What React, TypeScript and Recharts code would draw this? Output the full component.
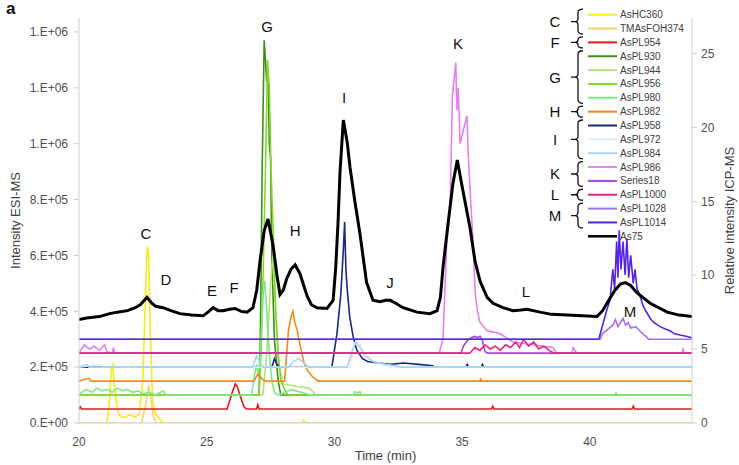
import React from "react";
import {
  LineChart,
  Line,
  XAxis,
  YAxis,
  ReferenceDot,
} from "recharts";

type Pt = [number, number];

// ESI-MS traces (left axis), each drawn with its own baseline offset
const asHC360: Pt[] = [
  [20, 0], [21.1, 0], [21.2, 8e4], [21.27, 2.0e5], [21.32, 2.1e5], [21.4, 1.2e5], [21.5, 5e4],
  [21.6, 2.5e4], [21.8, 2e4], [22.0, 3e4], [22.2, 2e4], [22.35, 3e4], [22.5, 1.5e5], [22.6, 4.5e5],
  [22.67, 6.3e5], [22.72, 6.2e5], [22.8, 3e5], [22.88, 8e4], [23.0, 3e4], [23.2, 1e4], [23.3, 0],
  [28.75, 0], [28.8, 1e4], [28.85, 0], [44, 0],
];
const tmAsFOH374: Pt[] = [
  [20, 0], [22.45, 0], [22.6, 6e4], [22.72, 1.35e5], [22.8, 1.0e5], [22.9, 3e4], [23.0, 0], [44, 0],
];
const asPL954: Pt[] = [
  [20, 5e4], [20.05, 5.8e4], [20.1, 5e4], [25.8, 5e4], [25.9, 8e4], [26.0, 1.1e5], [26.12, 1.4e5],
  [26.2, 1.3e5], [26.3, 1.0e5], [26.45, 6e4], [26.55, 5e4], [26.95, 5e4], [27.0, 6.5e4], [27.05, 5e4],
  [36.15, 5e4], [36.2, 6e4], [36.25, 5e4], [41.65, 5e4], [41.7, 6e4], [41.75, 5e4], [44, 5e4],
];
const asPL930: Pt[] = [
  [20, 1e5], [27.05, 1e5], [27.1, 3e5], [27.17, 9e5], [27.25, 1.37e6], [27.3, 1.3e6], [27.35, 1.22e6],
  [27.4, 1.25e6], [27.45, 1.0e6], [27.5, 9.5e5], [27.55, 6e5], [27.65, 3e5], [27.8, 1.5e5], [27.9, 1e5],
  [44, 1e5],
];
const asPL944: Pt[] = [
  [20, 1e5], [27.2, 1e5], [27.35, 2.5e5], [27.5, 5.0e5], [27.6, 6.0e5], [27.7, 4.0e5], [27.8, 2.2e5],
  [28.0, 1.4e5], [28.6, 1.3e5], [29.0, 1.25e5], [29.3, 1e5], [44, 1e5],
];
const asPL956: Pt[] = [
  [20, 1e5], [27.05, 1e5], [27.15, 3e5], [27.3, 9e5], [27.38, 1.3e6], [27.45, 1.2e6], [27.52, 9e5],
  [27.6, 7e5], [27.7, 4e5], [27.8, 2.5e5], [27.9, 1.5e5], [28.1, 1.1e5], [28.2, 1e5], [44, 1e5],
];
const asPL980: Pt[] = [
  [20, 1e5], [20.1, 1.1e5], [20.3, 1.2e5], [20.5, 1.1e5], [20.7, 1.25e5], [20.9, 1.15e5], [21.1, 1.2e5],
  [21.3, 1.1e5], [21.5, 1.25e5], [21.7, 1.15e5], [21.9, 1.2e5], [22.1, 1.1e5], [22.3, 1.15e5],
  [22.5, 1.05e5], [22.7, 1.1e5], [23.0, 1.0e5], [23.3, 1.15e5], [23.4, 1.0e5], [26.75, 1e5],
  [26.85, 1.6e5], [26.95, 2.1e5], [27.02, 1.7e5], [27.1, 2.5e5], [27.2, 4.5e5], [27.27, 5.1e5],
  [27.35, 4.0e5], [27.45, 2.5e5], [27.55, 1.5e5], [27.65, 1.1e5], [27.8, 1e5], [28.1, 1.1e5],
  [28.3, 1.2e5], [28.5, 1.15e5], [28.7, 1.1e5], [28.9, 1.05e5], [29.1, 1e5], [30.75, 1e5],
  [30.8, 1.12e5], [30.9, 1.08e5], [31.0, 1.12e5], [31.05, 1e5], [41.0, 1e5], [41.02, 1.1e5],
  [41.05, 1e5], [44, 1e5],
];
const asPL982: Pt[] = [
  [20, 1.5e5], [20.4, 1.6e5], [20.45, 1.5e5], [26.85, 1.5e5], [27.0, 1.75e5], [27.15, 1.6e5],
  [27.3, 1.5e5], [28.05, 1.5e5], [28.2, 3.3e5], [28.3, 3.8e5], [28.38, 4.0e5], [28.45, 3.6e5],
  [28.55, 3.3e5], [28.65, 2.8e5], [28.8, 2.2e5], [28.93, 1.9e5], [29.1, 1.7e5], [29.35, 1.5e5],
  [35.7, 1.5e5], [35.72, 1.6e5], [35.75, 1.5e5], [44, 1.5e5],
];
const asPL958: Pt[] = [
  [20, 2e5], [27.55, 2e5], [27.65, 2.3e5], [27.75, 2.1e5], [27.85, 2e5], [29.9, 2e5], [30.0, 2.6e5],
  [30.1, 3.2e5], [30.25, 4.6e5], [30.35, 6.2e5], [30.4, 7.2e5], [30.45, 5.5e5], [30.5, 4.8e5],
  [30.6, 3.8e5], [30.73, 3.1e5], [30.88, 2.6e5], [31.1, 2.3e5], [31.3, 2.2e5], [31.7, 2.15e5],
  [32.2, 2.1e5], [32.7, 2.15e5], [33.3, 2.1e5], [33.85, 2.05e5], [33.9, 2e5], [35.15, 2e5],
  [35.2, 2.1e5], [35.25, 2e5], [35.75, 2e5], [35.8, 2.1e5], [35.85, 2e5], [44, 2e5],
];
const asPL972: Pt[] = [
  [20, 2e5], [20.8, 2.1e5], [21.0, 2e5], [30.6, 2e5], [30.75, 2.8e5], [30.9, 3.0e5], [31.1, 2.6e5],
  [31.4, 2.3e5], [31.8, 2.1e5], [32.2, 2e5], [44, 2e5],
];
const asPL984: Pt[] = [
  [20, 2e5], [20.3, 2.1e5], [20.4, 2e5], [26.8, 2e5], [26.95, 2.4e5], [27.1, 2.1e5], [27.2, 2e5],
  [28.2, 2e5], [28.4, 2.2e5], [28.6, 2.3e5], [28.8, 2.15e5], [29.0, 2e5], [30.5, 2e5], [30.7, 2.6e5],
  [30.85, 2.9e5], [31.0, 2.7e5], [31.2, 2.4e5], [31.5, 2.2e5], [32.0, 2.1e5], [32.4, 2.05e5],
  [32.6, 2e5], [44, 2e5],
];
const asPL986: Pt[] = [
  [20, 2.5e5], [20.2, 2.8e5], [20.4, 2.65e5], [20.6, 2.75e5], [20.8, 2.6e5], [21.0, 2.8e5],
  [21.1, 2.55e5], [21.3, 2.5e5], [21.35, 2.7e5], [21.4, 2.5e5], [34.1, 2.5e5], [34.25, 3.0e5],
  [34.4, 6.5e5], [34.53, 7.7e5], [34.62, 1.17e6], [34.75, 1.29e6], [34.8, 1.12e6], [34.85, 1.2e6],
  [34.92, 1.0e6], [35.05, 1.05e6], [35.19, 1.1e6], [35.23, 9.8e5], [35.35, 7.7e5], [35.43, 6.5e5],
  [35.51, 4.7e5], [35.6, 4.0e5], [35.7, 3.6e5], [35.98, 3.3e5], [36.48, 3.2e5], [36.99, 2.9e5],
  [37.78, 2.8e5], [38.56, 2.7e5], [38.7, 2.5e5], [39.3, 2.5e5], [39.35, 2.7e5], [39.45, 2.55e5],
  [39.5, 2.5e5], [43.6, 2.5e5], [43.65, 2.65e5], [43.7, 2.5e5], [44, 2.5e5],
];
const series18: Pt[] = [
  [20, 2.5e5], [34.95, 2.5e5], [35.05, 2.75e5], [35.2, 2.95e5], [35.35, 3.05e5], [35.5, 3.1e5],
  [35.6, 3.05e5], [35.7, 3.1e5], [35.8, 2.95e5], [35.85, 2.7e5], [35.9, 2.55e5], [36.0, 2.5e5],
  [44, 2.5e5],
];
const asPL1000: Pt[] = [
  [20, 2.5e5], [35.3, 2.5e5], [35.5, 2.7e5], [35.7, 2.6e5], [35.9, 2.8e5], [36.1, 2.65e5],
  [36.3, 2.75e5], [36.5, 2.6e5], [36.7, 2.8e5], [36.9, 2.7e5], [37.1, 2.9e5], [37.25, 2.7e5],
  [37.4, 3.0e5], [37.6, 2.75e5], [37.8, 2.9e5], [38.0, 2.65e5], [38.2, 2.75e5], [38.4, 2.6e5],
  [38.6, 2.5e5], [44, 2.5e5],
];
const asPL1028: Pt[] = [
  [20, 3e5], [40.4, 3e5], [40.5, 3.2e5], [40.7, 3.35e5], [40.9, 3.5e5], [41.0, 3.7e5], [41.1, 3.45e5],
  [41.2, 3.6e5], [41.3, 3.75e5], [41.4, 3.5e5], [41.5, 3.6e5], [41.6, 3.4e5], [41.8, 3.45e5],
  [42.0, 3.25e5], [42.2, 3.1e5], [42.3, 3e5], [44, 3e5],
];
const asPL1014: Pt[] = [
  [20, 3e5], [40.35, 3e5], [40.5, 3.5e5], [40.65, 4.0e5], [40.79, 4.4e5], [40.9, 5.5e5], [40.97, 4.8e5],
  [41.05, 6.5e5], [41.1, 5.2e5], [41.15, 6.9e5], [41.22, 5.5e5], [41.3, 6.5e5], [41.38, 5.3e5],
  [41.45, 6.6e5], [41.52, 5.2e5], [41.6, 6.0e5], [41.7, 5.0e5], [41.77, 5.5e5], [41.85, 4.8e5],
  [41.95, 4.6e5], [42.08, 4.2e5], [42.2, 4.0e5], [42.36, 3.75e5], [42.5, 3.6e5], [42.75, 3.45e5],
  [43.0, 3.35e5], [43.14, 3.3e5], [43.3, 3.2e5], [43.53, 3.15e5], [43.81, 3.1e5], [44, 3.05e5],
];

// ICP-MS total arsenic (right axis)
const as75: Pt[] = [
  [20, 7.0], [20.3, 7.1], [20.8, 7.2], [21.2, 7.4], [21.5, 7.5], [21.9, 7.6], [22.2, 7.8], [22.4, 8.0],
  [22.66, 8.5], [22.85, 8.1], [23.0, 7.9], [23.29, 7.8], [23.6, 7.6], [23.95, 7.4], [24.4, 7.3],
  [24.86, 7.25], [25.05, 7.5], [25.25, 7.8], [25.45, 7.6], [25.64, 7.6], [25.9, 7.7], [26.11, 7.75],
  [26.35, 7.55], [26.58, 7.5], [26.81, 7.8], [26.96, 9.0], [27.09, 11.0], [27.25, 13.0], [27.4, 13.8],
  [27.6, 12.0], [27.75, 10.0], [27.87, 8.7], [28.0, 9.0], [28.14, 9.8], [28.3, 10.4], [28.46, 10.7],
  [28.65, 10.1], [28.93, 8.6], [29.1, 8.0], [29.32, 7.8], [29.71, 7.75], [29.95, 8.3], [30.05, 10.5],
  [30.14, 13.5], [30.22, 17.0], [30.35, 20.5], [30.5, 19.0], [30.61, 17.3], [30.8, 15.0], [31.0, 12.8],
  [31.26, 9.5], [31.51, 8.3], [31.79, 8.2], [32.0, 8.3], [32.18, 8.3], [32.4, 8.1], [32.69, 7.8],
  [33.23, 7.5], [33.74, 7.4], [34.02, 7.6], [34.15, 8.5], [34.25, 10.5], [34.45, 13.5], [34.64, 16.2],
  [34.81, 17.8], [35.0, 16.0], [35.31, 13.2], [35.5, 11.0], [35.7, 9.6], [35.98, 8.5], [36.21, 8.1],
  [36.6, 7.8], [36.99, 7.6], [37.3, 7.65], [37.54, 7.7], [38.05, 7.5], [38.5, 7.35], [39.11, 7.3],
  [40.28, 7.2], [40.5, 7.6], [40.67, 8.1], [40.99, 9.0], [41.2, 9.4], [41.38, 9.5], [41.6, 9.3],
  [41.85, 8.8], [42.36, 8.1], [43.03, 7.5], [43.5, 7.3], [44, 7.2],
];

const seriesNames = [
  "AsHC360", "TMAsFOH374", "AsPL954", "AsPL930", "AsPL944", "AsPL956", "AsPL980", "AsPL982",
  "AsPL958", "AsPL972", "AsPL984", "AsPL986", "Series18", "AsPL1000", "AsPL1028", "AsPL1014", "As75",
];
const seriesData = [
  asHC360, tmAsFOH374, asPL954, asPL930, asPL944, asPL956, asPL980, asPL982,
  asPL958, asPL972, asPL984, asPL986, series18, asPL1000, asPL1028, asPL1014, as75,
];
const seriesColors = [
  "#f3ec1e", "#f8d26a", "#e3191b", "#3e8e1a", "#b3e27c", "#84d82a", "#7cea86", "#f28a1e",
  "#1b2a78", "#e3edf8", "#a8d5f4", "#e282ec", "#a948d6", "#e8267f", "#a274e6", "#5524df", "#000000",
];

// peak letters on the chart (time, ICP-MS scale)
const peakLabels = ["C", "D", "E", "F", "G", "H", "I", "J", "K", "L", "M"];
const peakTimes = [22.62, 23.4, 25.21, 26.07, 27.36, 28.46, 30.38, 32.18, 34.84, 37.5, 41.57];
const peakHeights = [12.8, 9.7, 8.96, 9.19, 26.8, 13.0, 22.0, 9.5, 25.7, 8.92, 7.57];

// legend brackets: letter, first row, last row
const legendGroups: [string, number, number][] = [
  ["C", 0, 1], ["F", 2, 2], ["G", 3, 6], ["H", 7, 7], ["I", 8, 10], ["K", 11, 12], ["L", 13, 13], ["M", 14, 15],
];

const esiTicks = [0, 2e5, 4e5, 6e5, 8e5, 1e6, 1.2e6, 1.4e6];
const icpTicks = [0, 5, 10, 15, 20, 25];
const timeTicks = [20, 25, 30, 35, 40];

const FONT = '"Liberation Sans", Arial, sans-serif';

const fmtEsi = (v: number) => {
  if (v === 0) return "0.E+00";
  const e = Math.floor(Math.log10(v));
  const m = Math.round(v / Math.pow(10, e));
  return `${m}.E+${String(e).padStart(2, "0")}`;
};

const rowY = (i: number) => 14.7 + i * 13.85;

const LegendBox = () => {
  const ox = 540;
  return (
    <svg
      width={199}
      height={250}
      style={{ position: "absolute", left: ox, top: 0, fontFamily: FONT }}
    >
      {legendGroups.map(([label, a, b]) => {
        const y1 = rowY(a) - 5.5;
        const y2 = rowY(b) + 5.5;
        const ym = (y1 + y2) / 2;
        const xs = 38, xr = 43, xt = 31;
        const r = Math.min(3.5, (ym - y1) / 2);
        const d =
          `M ${xr} ${y1} Q ${xs} ${y1} ${xs} ${y1 + r} L ${xs} ${ym - r} ` +
          `Q ${xs} ${ym} ${xs - 3} ${ym} L ${xt} ${ym} M ${xs - 3} ${ym} ` +
          `Q ${xs} ${ym} ${xs} ${ym + r} L ${xs} ${y2 - r} Q ${xs} ${y2} ${xr} ${y2}`;
        return (
          <g key={label}>
            <path d={d} fill="none" stroke="#111" strokeWidth={1.3} />
            <text x={15} y={ym} fontSize={15} textAnchor="middle" dominantBaseline="central" fill="#111">
              {label}
            </text>
          </g>
        );
      })}
      {seriesNames.map((name, i) => (
        <g key={name}>
          <line
            x1={48}
            x2={77}
            y1={rowY(i)}
            y2={rowY(i)}
            stroke={seriesColors[i]}
            strokeWidth={name === "As75" ? 2.5 : 2}
          />
          <text x={80} y={rowY(i)} fontSize={10} dominantBaseline="central" fill="#404040">
            {name}
          </text>
        </g>
      ))}
    </svg>
  );
};

const PeakLetter = (label: string) => (props: any) => (
  <text
    x={props.cx}
    y={props.cy}
    textAnchor="middle"
    dominantBaseline="central"
    fontSize={15}
    fontFamily={FONT}
    fill="#111"
  >
    {label}
  </text>
);

export default function App() {
  const axisTick = { fill: "#505050", fontSize: 12, fontFamily: FONT };
  const axisLine = { stroke: "#cfcfcf" };
  return (
    <div style={{ position: "absolute", left: 0, top: 0, width: 739, height: 465, background: "#fff" }}>
      <LineChart width={739} height={465} margin={{ top: 18, right: 0, bottom: 0, left: 0 }}>
        <XAxis
          type="number"
          dataKey="t"
          domain={[20, 44]}
          ticks={timeTicks}
          height={42}
          allowDataOverflow
          tickLine={false}
          axisLine={axisLine}
          tick={axisTick}
          tickMargin={8}
          label={{
            value: "Time (min)",
            position: "insideBottom",
            offset: 5,
            style: { fill: "#404040", fontSize: 13, fontFamily: FONT },
          }}
        />
        <YAxis
          yAxisId="esi"
          orientation="left"
          width={79}
          domain={[0, 1450000]}
          ticks={esiTicks}
          allowDataOverflow
          tickFormatter={fmtEsi}
          tick={axisTick}
          tickSize={5}
          tickMargin={6}
          tickLine={axisLine}
          axisLine={axisLine}
          label={{
            value: "Intensity ESI-MS",
            angle: -90,
            position: "insideLeft",
            offset: 15,
            style: { textAnchor: "middle", fill: "#404040", fontSize: 13, fontFamily: FONT },
          }}
        />
        <YAxis
          yAxisId="icp"
          orientation="right"
          width={47}
          domain={[0, 27.4]}
          ticks={icpTicks}
          allowDataOverflow
          tick={axisTick}
          tickSize={5}
          tickMargin={4}
          tickLine={axisLine}
          axisLine={axisLine}
          label={{
            value: "Relative intensity ICP-MS",
            angle: -90,
            position: "insideRight",
            offset: 10,
            style: { textAnchor: "middle", fill: "#404040", fontSize: 13, fontFamily: FONT },
          }}
        />
        {seriesNames.map((name, i) => (
          <Line
            key={name}
            name={name}
            yAxisId={name === "As75" ? "icp" : "esi"}
            data={seriesData[i].map(([t, v]) => ({ t, v }))}
            dataKey="v"
            type="linear"
            stroke={seriesColors[i]}
            strokeWidth={name === "As75" ? 3 : 1.6}
            dot={false}
            activeDot={false}
            isAnimationActive={false}
          />
        ))}
        {peakLabels.map((label, i) => (
          <ReferenceDot
            key={label}
            yAxisId="icp"
            x={peakTimes[i]}
            y={peakHeights[i]}
            r={1}
            ifOverflow="visible"
            shape={PeakLetter(label)}
          />
        ))}
      </LineChart>
      <LegendBox />
      <div
        style={{
          position: "absolute",
          left: 6,
          top: -1,
          fontFamily: FONT,
          fontWeight: "bold",
          fontSize: 17,
          color: "#111",
        }}
      >
        a
      </div>
    </div>
  );
}
